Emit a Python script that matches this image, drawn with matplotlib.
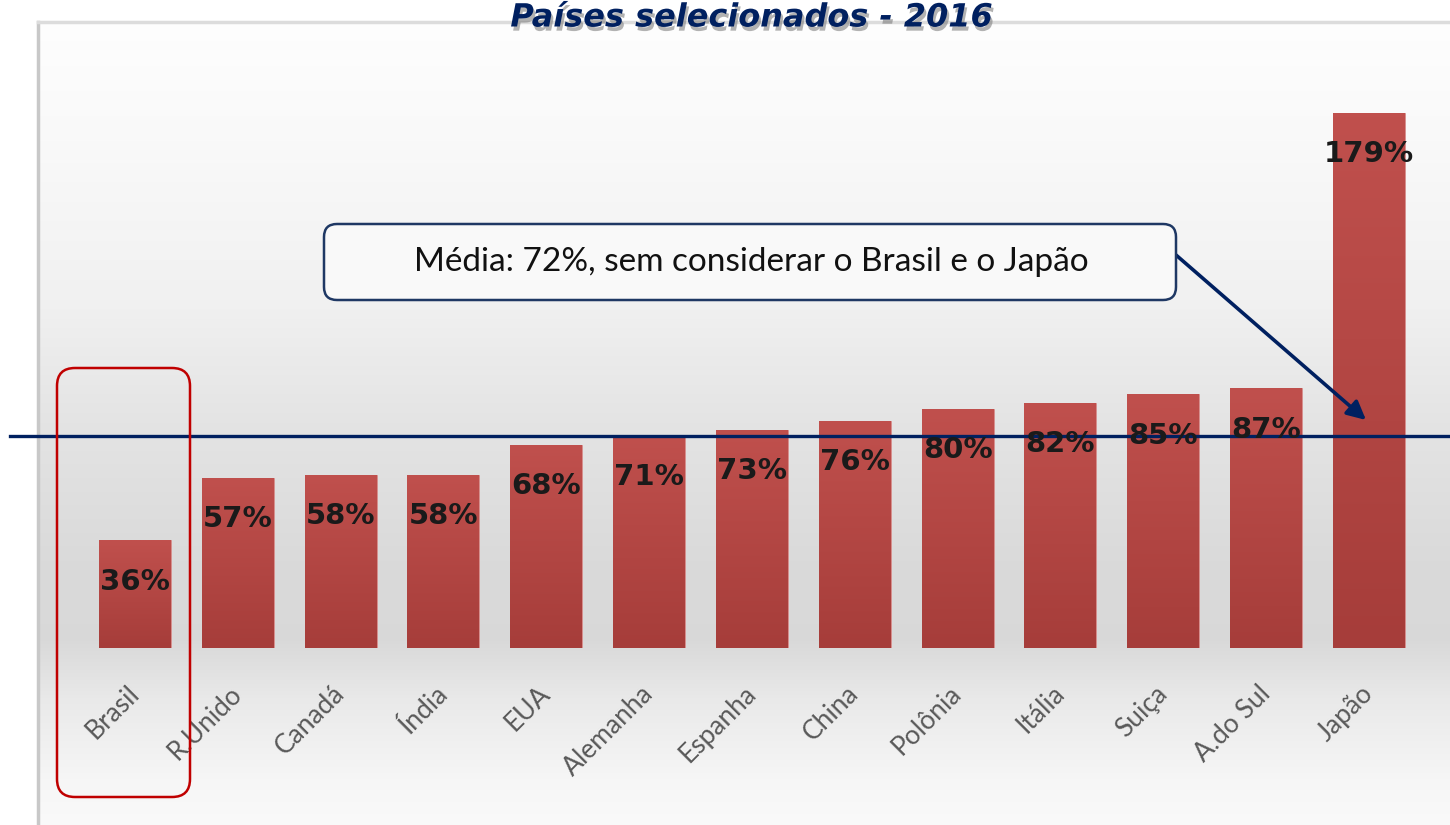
import numpy as np
import matplotlib
matplotlib.use('Agg')
import matplotlib.pyplot as plt
from matplotlib.patches import FancyBboxPatch
import matplotlib.patheffects as pe
from matplotlib.colors import LinearSegmentedColormap

# ---- data ----
countries = ['Brasil', 'R.Unido', 'Canadá', 'Índia', 'EUA', 'Alemanha', 'Espanha',
             'China', 'Polônia', 'Itália', 'Suiça', 'A.do Sul', 'Japão']
values = [36, 57, 58, 58, 68, 71, 73, 76, 80, 82, 85, 87, 179]
value_labels = [f'{v}%' for v in values]
mean_line = 71
title = 'Países selecionados - 2016'
note = 'Média: 72%, sem considerar o Brasil e o Japão'

W, H = 14.5, 8.25
DPI = 100
fig = plt.figure(figsize=(W, H), dpi=DPI)
fig.patch.set_facecolor('white')

# ---- background panel with vertical gradient ----
top_px = 22
bg = fig.add_axes([38 / 1450, 0, 1 - 38 / 1450, (825 - top_px) / 825], zorder=0)
rows = np.arange(top_px, 826)
stop_px = [22, 150, 300, 420, 560, 640, 700, 780, 825]
stop_v = [0.995, 0.975, 0.945, 0.895, 0.855, 0.85, 0.915, 0.965, 0.98]
g = np.interp(rows, stop_px, stop_v)
img = np.repeat(g[:, None], 3, axis=1)[:, None, :]
bg.imshow(img, aspect='auto', extent=[0, 1, 0, 1], interpolation='bilinear')
bg.set_xticks([]); bg.set_yticks([])
for s in ['right', 'bottom']:
    bg.spines[s].set_visible(False)
bg.spines['left'].set_color('#c8c8c8'); bg.spines['left'].set_linewidth(2.5)
bg.spines['top'].set_color('#dcdcdc'); bg.spines['top'].set_linewidth(2.5)

# ---- main axes ----
px_per_unit = 2.99
pitch = 102.83
ax = fig.add_axes([0, (825 - 648) / 825, 1, (648 - 30) / 825], zorder=1)
ax.patch.set_alpha(0)
x = np.arange(len(countries))
xlim = (-135 / pitch, (1450 - 135) / pitch)
ylim = (0, (648 - 30) / px_per_unit)

bars = ax.bar(x, values, width=0.7, color='#b8474a', edgecolor='#d8908e',
              linewidth=0.6, zorder=2)
cmap = LinearSegmentedColormap.from_list('bar', ['#a63d3a', '#c0504d'])
grad = np.linspace(0, 1, 100)[:, None]
for b in bars:
    x0, w, h = b.get_x(), b.get_width(), b.get_height()
    im = ax.imshow(grad, extent=[x0, x0 + w, 0, h], origin='lower', aspect='auto',
                   cmap=cmap, zorder=2.1, interpolation='bilinear')
    im.set_clip_path(b)

for i, (v, lbl) in enumerate(zip(values, value_labels)):
    ax.annotate(lbl, (x[i], v), xytext=(0, -30), textcoords='offset points',
                ha='center', va='center', fontsize=21, fontweight='bold',
                color='#1a1a1a', zorder=5)

ax.axhline(mean_line, xmin=10 / 1450, xmax=1, color='#002060', lw=2.4, zorder=4)

ax.set_xlim(*xlim)
ax.set_ylim(*ylim)
ax.set_yticks([])
ax.set_xticks(x)
ax.set_xticklabels(countries, rotation=45, ha='right', va='center',
                   rotation_mode='anchor', fontsize=19, color='#595959', family='Lato')
ax.tick_params(axis='x', length=0, pad=30)
for s in ax.spines.values():
    s.set_visible(False)

# ---- title ----
fig.text(752 / 1450, 1 - 18 / 825, title, ha='center', va='center', fontsize=23,
         fontweight='bold', style='italic', color='#002060', zorder=10,
         path_effects=[pe.withSimplePatchShadow(offset=(1.5, -3), shadow_rgbFace='#808080',
                                                alpha=0.6)])

# ---- note box ----
box = FancyBboxPatch((3.24, 5.25), 8.52, 0.76, boxstyle='round,pad=0,rounding_size=0.13',
                     transform=fig.dpi_scale_trans, fc='#f9f9f9', ec='#1f3864', lw=1.8,
                     zorder=6)
fig.add_artist(box)
fig.text(7.51, 5.63, note, transform=fig.dpi_scale_trans, ha='center', va='center',
         fontsize=24, family='Lato', color='#111111', zorder=7)

ax.annotate('', xy=(13.66, 4.05), xycoords=fig.dpi_scale_trans,
            xytext=(11.76, 5.70), textcoords=fig.dpi_scale_trans,
            arrowprops=dict(arrowstyle='-|>', color='#002060', lw=2.6,
                            mutation_scale=28, shrinkA=0, shrinkB=0), zorder=6)

# ---- highlight Brasil ----
rect = FancyBboxPatch((0.57, 0.28), 1.33, 4.29, boxstyle='round,pad=0,rounding_size=0.18',
                      transform=fig.dpi_scale_trans, fc='none', ec='#c00000', lw=1.8,
                      zorder=8)
fig.add_artist(rect)

fig.savefig('out.png', dpi=DPI)
